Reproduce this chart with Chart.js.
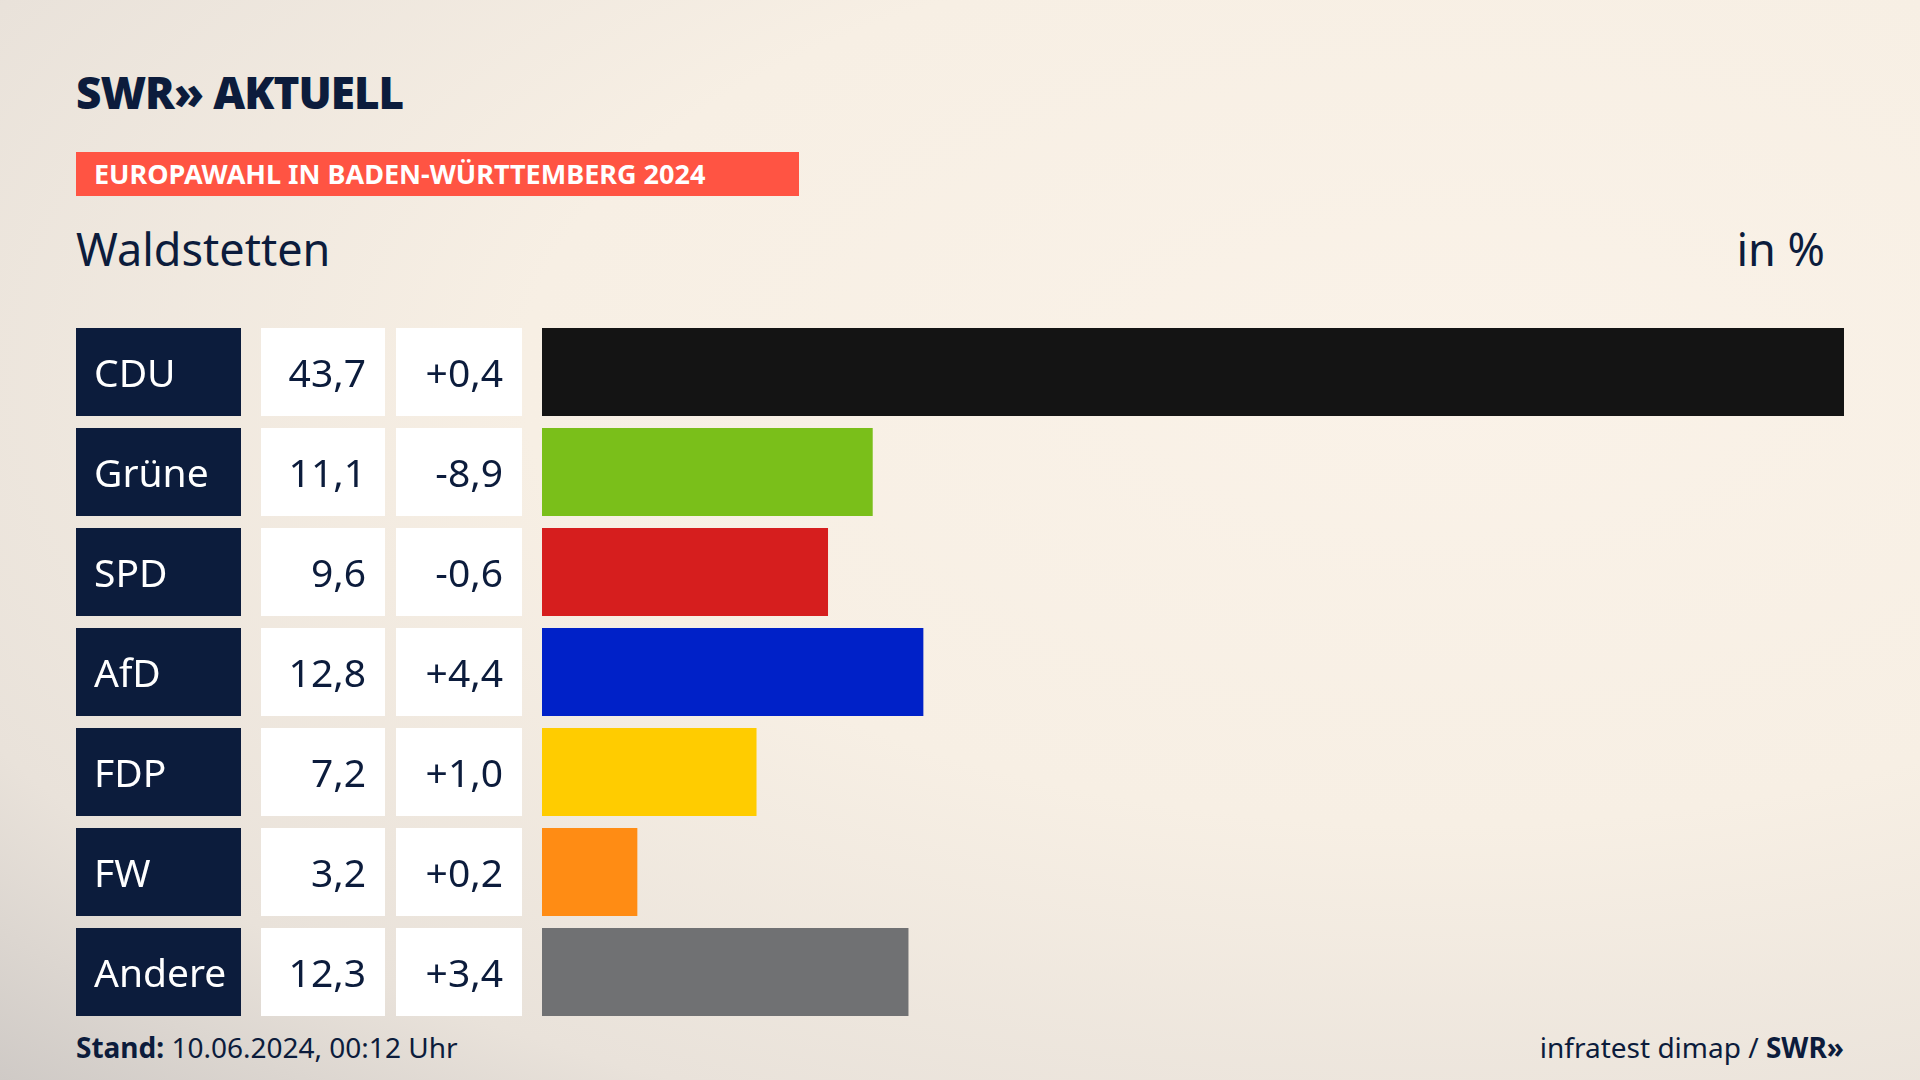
<!DOCTYPE html>
<html><head><meta charset="utf-8">
<script src="https://cdn.jsdelivr.net/npm/chart.js@4"></script>
<style>
html,body{margin:0;width:1920px;height:1080px;overflow:hidden;font-family:"Noto Sans",sans-serif;}
body{background:radial-gradient(ellipse at 75% 35%,#faf2e8 0%,#f7efe4 45%,#e9e2da 80%,#cfcac6 100%);position:relative;}
#logo{position:absolute;left:76px;top:62px;font-weight:900;font-size:44px;color:#0c1c3c;letter-spacing:-1px;}
#banner{position:absolute;left:76px;top:152px;width:723px;height:44px;background:#ff5443;color:#fff;font-weight:700;font-size:27px;line-height:44px;padding-left:18px;box-sizing:border-box;}
#title{position:absolute;left:76px;top:218px;font-size:45px;color:#0c1c3c;}
#unit{position:absolute;right:95px;top:218px;font-size:45px;color:#0c1c3c;}
#stand{position:absolute;left:76px;top:1028px;font-size:28px;color:#0c1c3c;}
#src{position:absolute;right:76px;top:1028px;font-size:28px;color:#0c1c3c;}
canvas{position:absolute;left:0;top:0;}
</style></head><body>
<div id="logo">SWR» AKTUELL</div>
<div id="banner">EUROPAWAHL IN BADEN-WÜRTTEMBERG 2024</div>
<div id="title">Waldstetten</div>
<div id="unit">in %</div>
<div id="stand"><b>Stand:</b> 10.06.2024, 00:12 Uhr</div>
<div id="src">infratest dimap / <b>SWR»</b></div>
<canvas id="c" width="1920" height="1080"></canvas>
<script>
const parties=["CDU","Grüne","SPD","AfD","FDP","FW","Andere"];
const shares=[43.7,11.1,9.6,12.8,7.2,3.2,12.3];
const changes=["+0,4","-8,9","-0,6","+4,4","+1,0","+0,2","+3,4"];
const colors=["#141414","#7abf1a","#d61e1e","#0021c8","#ffcc00","#ff8c14","#707173"];
const fmt=v=>v.toFixed(1).replace(".",",");
const boxes={id:"boxes",afterDraw(ch){
 const c=ch.ctx,y=ch.scales.y;c.save();
 c.font='39px "Noto Sans"';c.textBaseline="middle";
 parties.forEach((p,i)=>{
  const cy=y.getPixelForValue(i),h=88,t=cy-h/2,ty=cy+4;
  c.fillStyle="#0c1c3c";c.fillRect(76,t,165,h);
  c.fillStyle="#fff";c.fillRect(261,t,124,h);c.fillRect(396,t,126,h);
  c.fillStyle="#fff";c.textAlign="left";c.fillText(p,94,ty);
  c.fillStyle="#0c1c3c";c.textAlign="right";
  c.fillText(fmt(shares[i]),366,ty);c.fillText(changes[i],503,ty);
 });c.restore();}};
new Chart(document.getElementById("c"),{type:"bar",
 data:{labels:parties,datasets:[{data:shares,backgroundColor:colors,barPercentage:0.88,categoryPercentage:1}]},
 options:{indexAxis:"y",responsive:false,animation:false,
  layout:{padding:{left:542,right:76,top:322,bottom:58}},
  plugins:{legend:{display:false},tooltip:{enabled:false}},
  scales:{x:{display:false,min:0,max:43.7},y:{display:false}}},
 plugins:[boxes]});
</script></body></html>
